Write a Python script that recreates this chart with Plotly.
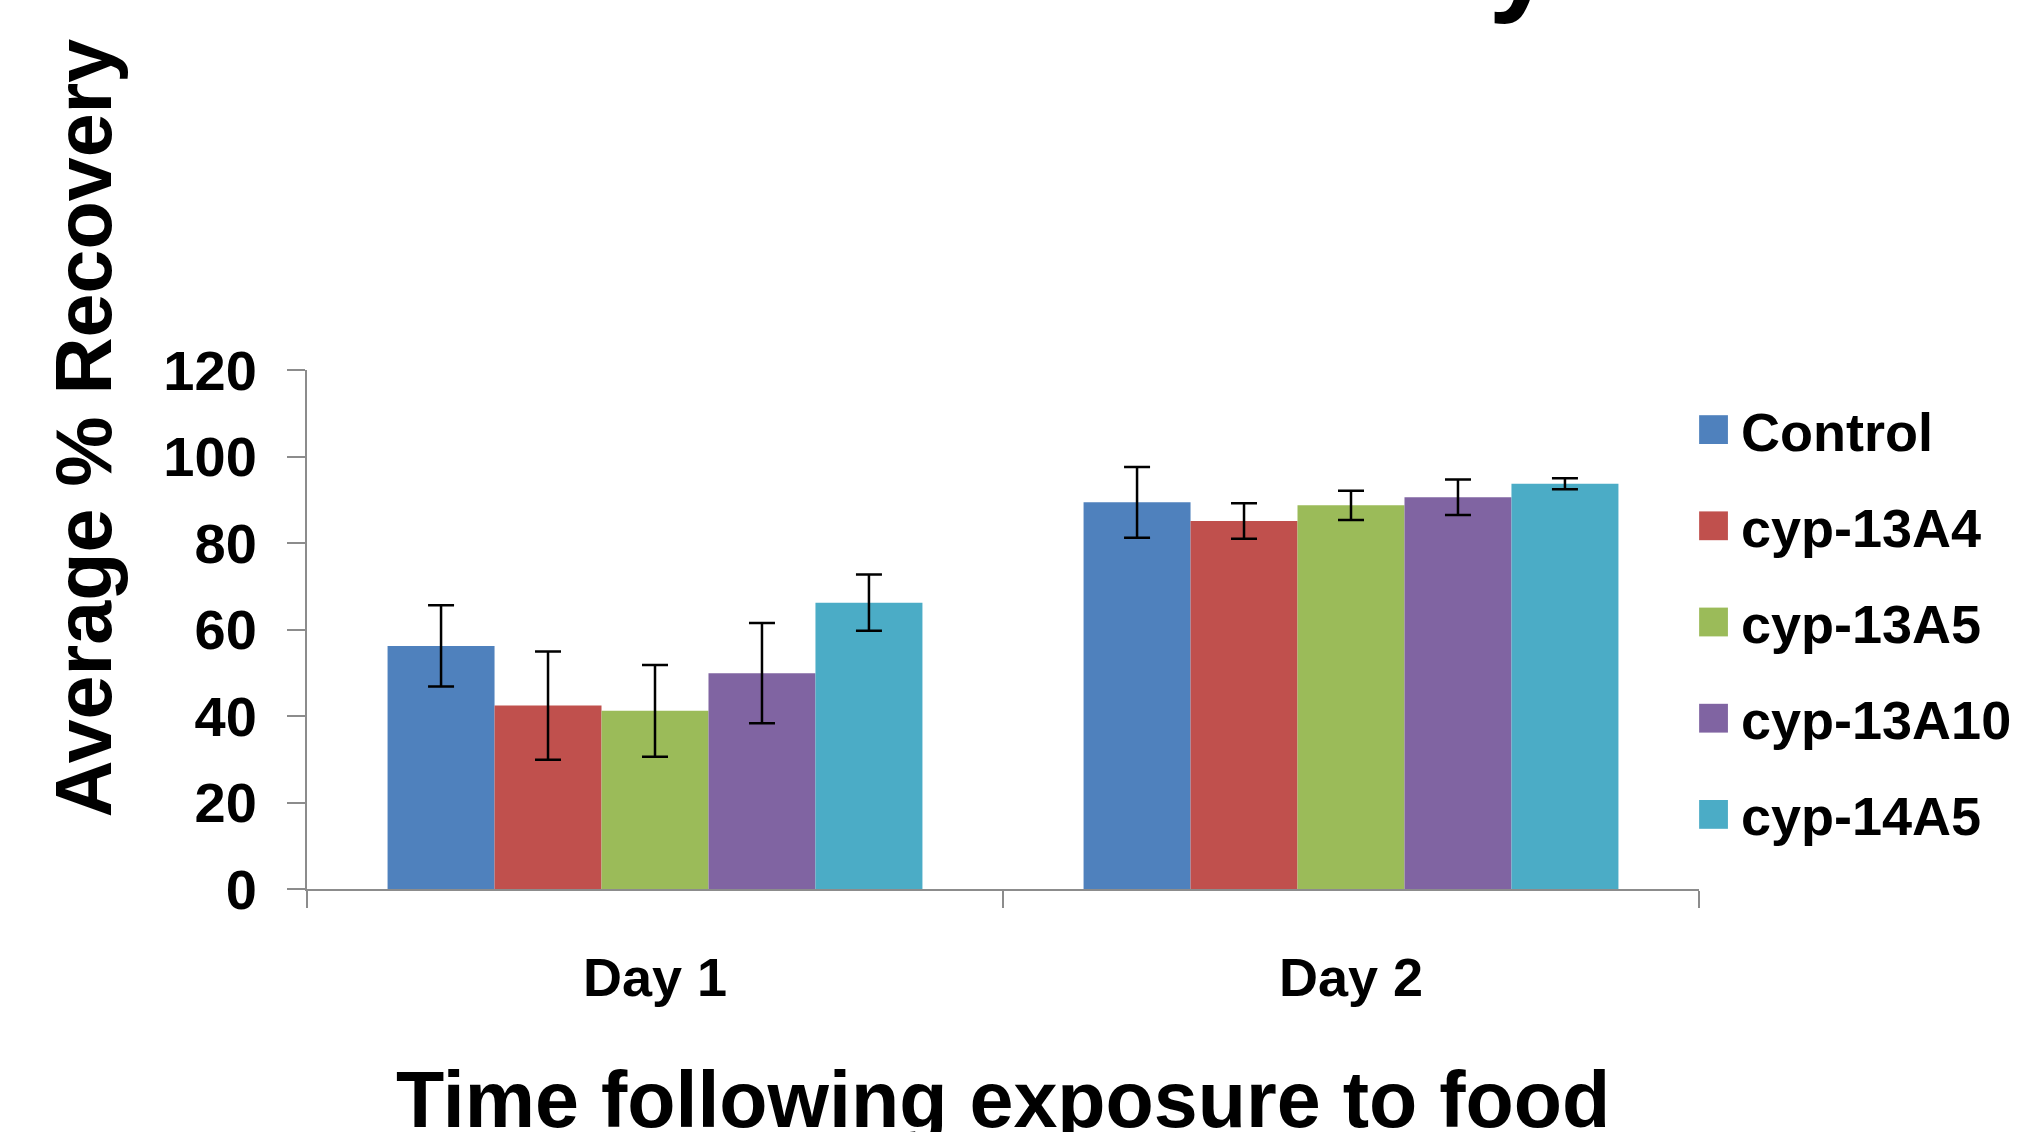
import plotly.graph_objects as go

categories = ["Day 1", "Day 2"]
series_names = ["Control", "cyp-13A4", "cyp-13A5", "cyp-13A10", "cyp-14A5"]
control = [56.2, 89.4]
cyp13a4 = [42.4, 85.1]
cyp13a5 = [41.2, 88.7]
cyp13a10 = [49.9, 90.6]
cyp14a5 = [66.2, 93.7]
control_err = [9.4, 8.2]
cyp13a4_err = [12.5, 4.1]
cyp13a5_err = [10.6, 3.4]
cyp13a10_err = [11.6, 4.1]
cyp14a5_err = [6.5, 1.3]
y_ticks = [0, 20, 40, 60, 80, 100, 120]

values = [control, cyp13a4, cyp13a5, cyp13a10, cyp14a5]
errors = [control_err, cyp13a4_err, cyp13a5_err, cyp13a10_err, cyp14a5_err]
colors = ["#4F81BD", "#C0504D", "#9BBB59", "#8064A2", "#4BACC6"]

W, H = 2029, 1132
L, R, T, B = 307, 1702, 370, 889
PW, PH = R - L, B - T
FONT = "Liberation Sans, Arial, sans-serif"

def px(x):
    return (x - L) / PW

def py(y):
    return (B - y) / PH

fig = go.Figure()
for name, v, e, c in zip(series_names, values, errors, colors):
    fig.add_trace(go.Bar(
        x=categories, y=v, name=name, legendgroup=name,
        marker=dict(color=c, line=dict(width=0)),
        error_y=dict(type="data", array=e, visible=True, color="#000000",
                     thickness=2.5, width=13),
    ))

fig.update_layout(
    width=W, height=H,
    margin=dict(l=L, r=W - R, t=T, b=H - B, pad=0),
    paper_bgcolor="white", plot_bgcolor="white",
    barmode="group", bargap=0.2315, bargroupgap=0,
    font=dict(family=FONT, color="black"),
    showlegend=True,
    legend=dict(
        x=px(1689), xanchor="left", y=py(388), yanchor="top",
        font=dict(family=FONT, size=54, color="black", weight="bold"),
        itemwidth=45, tracegroupgap=23, bgcolor="rgba(0,0,0,0)",
        borderwidth=0,
    ),
    xaxis=dict(
        type="category", showline=True, linecolor="#8C8C8C", linewidth=2,
        ticks="outside", tickson="boundaries", ticklen=17, tickwidth=2,
        tickcolor="#8C8C8C", showgrid=False, zeroline=False,
        tickfont=dict(family=FONT, size=54, color="black", weight="bold"),
        ticklabelstandoff=40,
    ),
    yaxis=dict(
        range=[0, 120], tickvals=y_ticks, ticktext=[str(t) for t in y_ticks],
        showline=True, linecolor="#8C8C8C", linewidth=2,
        ticks="outside", ticklen=18, tickwidth=2, tickcolor="#8C8C8C",
        showgrid=False, zeroline=False,
        tickfont=dict(family=FONT, size=56, color="black", weight="bold"),
        ticklabelstandoff=19,
    ),
    annotations=[
        dict(text="Average % Recovery", xref="paper", yref="paper",
             x=px(83), y=py(428), xanchor="center", yanchor="middle",
             textangle=-90, showarrow=False,
             font=dict(family=FONT, size=79, color="black", weight="bold")),
        dict(text="Time following exposure to food", xref="paper", yref="paper",
             x=0.5, y=py(1099), xanchor="center", yanchor="middle",
             showarrow=False,
             font=dict(family=FONT, size=79, color="black", weight="bold")),
        dict(text="Percent Recovery", xref="paper", yref="paper",
             x=px(1057), y=py(-42), xanchor="center", yanchor="middle",
             showarrow=False,
             font=dict(family=FONT, size=118, color="black", weight="bold")),
    ],
)

post = """
document.body.style.margin = '0';
document.body.style.overflow = 'hidden';
var gd = document.getElementsByClassName('plotly-graph-div')[0];
function growLegend(){
  document.querySelectorAll('.legendpoints path').forEach(function(p){
    var orig = p.getAttribute('data-orig-transform');
    if (orig === null) {
      orig = p.getAttribute('transform') || '';
      p.setAttribute('data-orig-transform', orig);
    }
    p.setAttribute('transform', orig + ' scale(2.4)');
  });
}
growLegend();
gd.on('plotly_afterplot', growLegend);
"""

fig.write_html("out.html", post_script=post, config={"displayModeBar": False})
